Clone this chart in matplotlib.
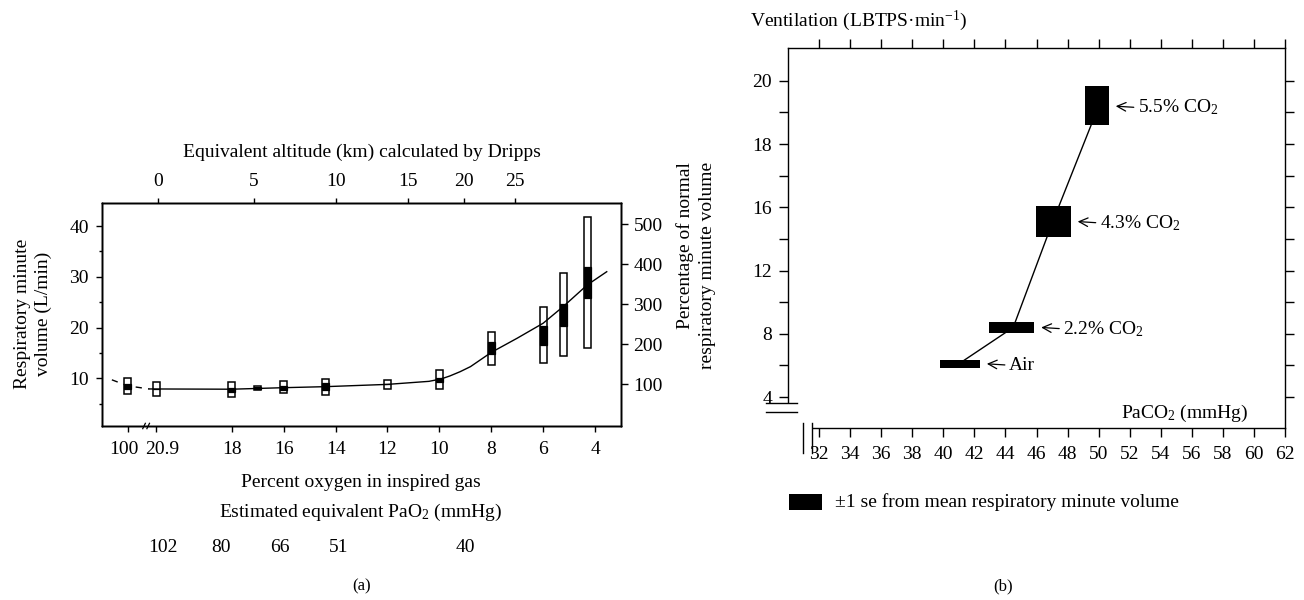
import matplotlib
matplotlib.use("Agg")
import matplotlib.pyplot as plt
from matplotlib.patches import Rectangle
import matplotlib.transforms as mtransforms
import numpy as np

plt.rcParams['font.family'] = ['Liberation Serif', 'DejaVu Serif']
plt.rcParams['mathtext.fontset'] = 'custom'
plt.rcParams['mathtext.rm'] = 'Liberation Serif'
plt.rcParams['mathtext.it'] = 'Liberation Serif:italic'
plt.rcParams['font.size'] = 14
plt.rcParams['axes.linewidth'] = 1.0

# ---- panel (a): minute volume vs percent oxygen ----
o2_pct = [100, 20.9, 18, 17, 16, 14.4, 12, 10, 8, 6, 5.2, 4.3]
range_lo = [6.9, 6.5, 6.25, 7.7, 7.05, 6.7, 7.9, 7.9, 12.6, 13.1, 14.3, 15.9]
range_hi = [10.0, 9.2, 9.35, 8.55, 9.55, 9.85, 9.65, 11.65, 19.2, 24.1, 30.8, 41.8]
se_lo = [7.85, 7.85, 7.35, 7.9, 7.7, 7.7, 8.8, 9.35, 14.8, 16.6, 20.3, 25.9]
se_hi = [8.85, 7.85, 8.15, 8.3, 8.5, 9.0, 8.8, 10.1, 17.2, 20.3, 24.6, 32.0]

fit_o2 = [21.18, 18, 17, 16, 14.4, 12, 10.4, 10, 9.8, 9.6, 9.2, 8.8, 8.4, 8, 7, 6, 5.2, 4.3, 3.55]
fit_vol = [7.9, 7.85, 8.0, 8.15, 8.35, 8.8, 9.4, 9.8, 10.1, 10.45, 11.3, 12.3, 13.7, 15.1,
           17.9, 20.85, 24.25, 28.4, 31.0]
dash_o2 = [22.62, 22.0, 21.18]   # axis positions, 100% sits at 22 on the broken axis
dash_vol = [9.7, 8.5, 7.9]

o2_ticks = [100, 20.9, 18, 16, 14, 12, 10, 8, 6, 4]
o2_ticklabels = ['100', '20.9', '18', '16', '14', '12', '10', '8', '6', '4']
alt_km = [0, 5, 10, 15, 20, 25]
alt_o2 = [20.85, 17.15, 14.0, 11.2, 9.05, 7.1]
pao2_vals = [102, 80, 66, 51, 40]
pao2_o2 = [20.65, 18.4, 16.15, 13.9, 9.0]
pct_normal_ticks = [100, 200, 300, 400, 500]

# ---- panel (b): ventilation vs PaCO2 ----
gas_labels = ['Air', '2.2% CO$_2$', '4.3% CO$_2$', '5.5% CO$_2$']
paco2_mean = [41.0, 44.5, 47.05, 50.0]
paco2_lo = [39.8, 42.95, 45.95, 49.15]
paco2_hi = [42.35, 45.85, 48.2, 50.65]
vent_mean = [6.1, 8.4, 15.1, 19.2]
vent_lo = [5.85, 8.05, 14.15, 18.6]
vent_hi = [6.35, 8.75, 16.05, 19.85]
vent_ticks = [4, 6, 8, 10, 12, 14, 16, 17, 18, 19, 20]
vent_ticklabels = ['4', '', '8', '', '12', '', '16', '', '18', '', '20']
paco2_ticks = list(range(32, 63, 2))


def o2_pos(p):
    # 100% is drawn just left of 20.9 on a broken axis
    return 22.0 if p == 100 else p


def vent_fwd(v):
    v = np.asarray(v, dtype=float)
    return np.where(v >= 16, v - 16, (v - 16) / 2.0)


def vent_inv(t):
    t = np.asarray(t, dtype=float)
    return np.where(t >= 0, t + 16, 2.0 * t + 16)


W, H = 1304, 600
fig = plt.figure(figsize=(W / 100, H / 100), dpi=100)

# ================= panel (a) =================
ax = fig.add_axes([102 / W, 1 - 426 / H, 519 / W, 223.3 / H])
ax.set_xlim(23, 3)
ax.set_ylim(0.6, 44.6)

xs = [o2_pos(p) for p in o2_pct]
ax.bar(xs, np.subtract(range_hi, range_lo), bottom=range_lo, width=0.27,
       facecolor='white', edgecolor='black', linewidth=1.1, zorder=2)
ax.bar(xs, np.subtract(se_hi, se_lo), bottom=se_lo, width=0.27,
       facecolor='black', edgecolor='black', linewidth=0.9, zorder=3)
ax.plot(fit_o2, fit_vol, color='black', lw=1.0, zorder=4)
ax.plot(dash_o2, dash_vol, color='black', lw=1.0, dashes=(4.5, 4.5), zorder=1)

ax.set_xticks([o2_pos(p) for p in o2_ticks])
ax.set_xticklabels(o2_ticklabels)
ax.set_yticks([10, 20, 30, 40])
ax.set_yticks([5, 15, 25, 35], minor=True)
ax.tick_params(axis='x', which='major', direction='out', length=4.5, width=1, pad=6.5)
ax.tick_params(axis='y', which='major', direction='out', length=4.5, width=1, pad=5)
ax.tick_params(axis='y', which='minor', direction='out', length=2.5, width=1)
# nudge the crowded "100" / "20.9" labels apart, as in the source figure
xl = ax.get_xticklabels()
for lbl, dx in [(xl[0], -4), (xl[1], 6)]:
    lbl.set_transform(lbl.get_transform() +
                      mtransforms.ScaledTranslation(dx / 100, 0, fig.dpi_scale_trans))

# axis break marks on the bottom spine
brk = mtransforms.blended_transform_factory(ax.transData, ax.transAxes)
for xb in [21.38, 21.22]:
    ax.plot([xb + 0.05, xb - 0.05], [-0.012, 0.012], transform=brk,
            color='black', lw=0.9, clip_on=False)

ax_top = ax.twiny()
ax_top.set_xlim(ax.get_xlim())
ax_top.set_xticks(alt_o2)
ax_top.set_xticklabels([str(k) for k in alt_km])
ax_top.tick_params(direction='out', length=3.5, width=1, pad=6)
ax_top.set_xlabel('Equivalent altitude (km) calculated by Dripps', labelpad=11)

ax_r = ax.twinx()
ax_r.set_ylim(-4.25, 554)
ax_r.set_yticks(pct_normal_ticks)
ax_r.tick_params(direction='out', length=5, width=1, pad=4)

fig.text(33 / W, 1 - 314 / H, 'Respiratory minute\nvolume (L/min)', rotation=90,
         ha='center', va='center', multialignment='center', linespacing=1.35)
fig.text(696 / W, 1 - 162 / H, 'Percentage of normal\nrespiratory minute volume',
         rotation=90, ha='center', va='top', multialignment='right', linespacing=1.4)

fig.text(360.5 / W, 1 - 486.7 / H, 'Percent oxygen in inspired gas',
         ha='center', va='baseline')
fig.text(361 / W, 1 - 516.7 / H, 'Estimated equivalent PaO$_2$ (mmHg)',
         ha='center', va='baseline')
pao2_tr = mtransforms.blended_transform_factory(ax.transData, fig.transFigure)
for val, pos in zip(pao2_vals, pao2_o2):
    fig.text(pos, 1 - 551.7 / H, str(val), transform=pao2_tr, ha='center', va='baseline')
fig.text(361.7 / W, 1 - 590 / H, '(a)', ha='center', va='baseline', fontsize=12)

# ================= panel (b) =================
ax2 = fig.add_axes([788 / W, 1 - 428.3 / H, 497 / W, 380.3 / H])
ax2.set_yscale('function', functions=(vent_fwd, vent_inv))
ax2.set_xlim(30, 62)
ax2.set_ylim(2.02, 21.04)

ax2.plot(paco2_mean, vent_mean, color='black', lw=1.0, zorder=2)
ax2.bar(paco2_lo, np.subtract(vent_hi, vent_lo), width=np.subtract(paco2_hi, paco2_lo),
        bottom=vent_lo, align='edge', color='black', zorder=3)
tip_tr = mtransforms.offset_copy(ax2.transData, fig=fig, x=7, y=0, units='dots')
for lab, xh, ym in zip(gas_labels, paco2_hi, vent_mean):
    ax2.annotate(lab, xy=(xh, ym), xycoords=tip_tr, xytext=(16, -1),
                 textcoords='offset points', ha='left', va='center',
                 arrowprops=dict(arrowstyle='->,head_length=0.45,head_width=0.22',
                                 lw=0.9, color='black', relpos=(0, 0.5),
                                 shrinkA=1, shrinkB=0))

ax2.set_xticks(paco2_ticks)
ax2.set_yticks(vent_ticks)
ax2.set_yticklabels(vent_ticklabels)
ax2.yaxis.set_minor_locator(matplotlib.ticker.NullLocator())
ax2.tick_params(direction='out', length=6.5, width=1, pad=5,
                top=True, right=True, labeltop=False, labelright=False)
ax2.tick_params(axis='x', pad=6.5)
ax2.spines['left'].set_bounds(3.7, 21.04)
ax2.spines['bottom'].set_bounds(31.6, 62)

# break marks at the corner
for yb in [0.0665, 0.043]:
    ax2.plot([-0.044, 0.018], [yb, yb], transform=ax2.transAxes, color='black',
             lw=1.0, clip_on=False)
for xb in [0.0302, 0.0483]:
    ax2.plot([xb, xb], [0.014, -0.065], transform=ax2.transAxes, color='black',
             lw=1.0, clip_on=False)

ax2.text(0.9256, 0.026, 'PaCO$_2$ (mmHg)', transform=ax2.transAxes,
         ha='right', va='baseline')
fig.text(750 / W, 1 - 26 / H, 'Ventilation (LBTPS\u00b7min$^{-1}$)', ha='left', va='baseline')

fig.patches.append(Rectangle((789 / W, 1 - 510 / H), 33 / W, 16 / H,
                             transform=fig.transFigure, facecolor='black'))
fig.text(835 / W, 1 - 502 / H, '\u00b11 se from mean respiratory minute volume',
         ha='left', va='center')
fig.text(1003 / W, 1 - 590 / H, '(b)', ha='center', va='baseline', fontsize=12)

fig.savefig('out.png', dpi=100)
